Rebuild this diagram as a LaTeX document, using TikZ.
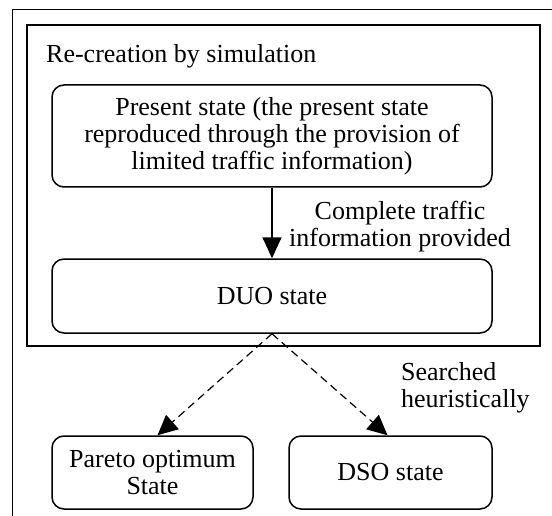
\documentclass[tikz,border=0pt]{standalone}
\usepackage{fontspec}
\setmainfont{Liberation Serif}
\usetikzlibrary{
	positioning		% Allows relative placement
	, arrows.meta	% Allows Triangle style arrow tips
}

\begin{document}
\begin{tikzpicture}[
		x=1pt, y=-1pt
		, every node/.style={font=\fontsize{26}{27}\selectfont}
		, statebox/.style={draw, line width=1.5pt, rounded corners=12pt, align=center, inner sep=0pt}
		, simframe/.style={draw, line width=2pt, inner sep=0pt}
		, outerframe/.style={draw, line width=1pt}
		, provide/.style={-{Triangle[length=21pt,width=19pt]}, line width=1.5pt}
		, search/.style={-{Triangle[length=20pt,width=19pt]}, line width=1.2pt, dash pattern=on 8pt off 5pt}
		, caption/.style={inner sep=0pt, align=left}
	]

	\useasboundingbox (0,0) rectangle (552,516);

	% Draw the outer frame (cut by the page edge)
	\draw[outerframe] (12,516) |- (552,10);

	% Draw the simulation frame and its title
	\node[simframe, minimum width=513pt, minimum height=321pt] (simulation) at (283.5,185.5) {};
	\node[caption, anchor=base west] (simtitle) at (46,63) {Re-creation by simulation};

	% Draw the states
	\node[statebox, minimum width=440pt, minimum height=102pt] (present) at (272,136)
		{Present state (the present state\\reproduced through the provision of\\limited traffic information)};
	\node[statebox, minimum width=440pt, minimum height=74pt] (duo) at (272,296) {DUO state};
	\node[statebox, minimum width=201pt, minimum height=73pt] (pareto) at (152.5,472.5) {Pareto optimum\\State};
	\node[statebox, minimum width=203pt, minimum height=73pt] (dso) at (390.5,472.5) {DSO state};

	% Draw the connectors between the states
	\draw[provide] (present) -- (duo);
	\draw[search] (duo.south) -- ([xshift=5pt]pareto.north);
	\draw[search] (duo.south) -- ([xshift=-3pt]dso.north);

	% Label the connectors
	\node[caption, align=center] (provided) at (400,227) {Complete traffic\\information provided};
	\node[caption, anchor=west] (searched) at (401,388) {Searched\\heuristically};
\end{tikzpicture}
\end{document}
